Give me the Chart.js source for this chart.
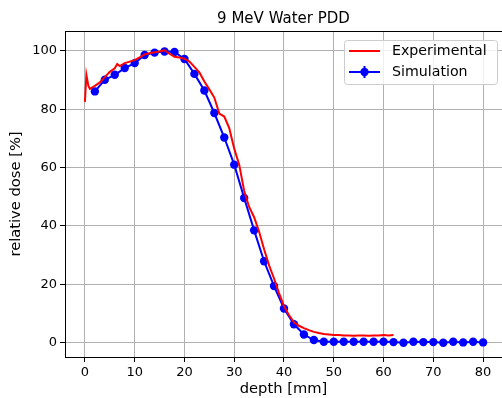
<!DOCTYPE html>
<html>
<head>
<meta charset="utf-8">
<script src="https://cdn.jsdelivr.net/npm/chart.js@4"></script>
<style>
  body { margin: 0; background: #fff; }
  #pdd { display: block; }
</style>
</head>
<body>
<canvas id="pdd" width="502" height="398"></canvas>
<script>
// measured depth-dose curve
const expDepth = [0, 0.3, 0.7, 1, 2, 3, 4, 5, 6, 6.5, 7, 8, 9, 10, 11, 12, 13, 14, 15, 16,
  17, 18, 19, 20, 21, 22, 23, 24, 25, 26, 27, 28, 29, 30, 31, 32, 33, 34, 35, 36,
  37, 38, 39, 40, 41, 42, 43, 44, 45, 46, 47, 48, 49, 50, 51, 52, 53, 54, 55, 56,
  57, 58, 59, 60, 61, 62];
const expDose = [82.5, 91.8, 88, 87, 88, 89.2, 91, 92.8, 94, 95.5, 94.8, 95.8, 96.3, 96.8, 97.8, 98.8, 99.2, 99.5, 99.8, 100.2,
  99.0, 98.0, 97.7, 97.3, 96.3, 94.5, 92.6, 89.5, 86.8, 84, 78.5, 77.5, 73.5, 66.5, 61, 52, 46.5, 43, 38, 32,
  26.5, 22, 17, 12.5, 9.5, 7, 5.8, 5, 4.3, 3.7, 3.3, 3.0, 2.8, 2.6, 2.6, 2.5, 2.5, 2.4, 2.5, 2.5,
  2.4, 2.5, 2.5, 2.6, 2.5, 2.6];

// simulated points, every 2 mm
const simDepth = [2, 4, 6, 8, 10, 12, 14, 16, 18, 20, 22, 24, 26, 28, 30, 32, 34, 36, 38, 40,
  42, 44, 46, 48, 50, 52, 54, 56, 58, 60, 62, 64, 66, 68, 70, 72, 74, 76, 78, 80];
const simDose = [86.1, 90.1, 91.8, 94.1, 95.8, 98.6, 99.4, 99.8, 99.6, 97.2, 92.1, 86.4, 78.7, 70.3, 61.0, 49.6, 38.5, 27.9, 19.4, 11.7,
  6.3, 2.8, 0.9, 0.3, 0.3, 0.3, 0.3, 0.3, 0.3, 0.3, 0.2, 0.0, 0.3, 0.2, 0.2, 0.0, 0.3, 0.1, 0.3, 0.1];

const xTicks = [0, 10, 20, 30, 40, 50, 60, 70, 80];
const yTicks = [0, 20, 40, 60, 80, 100];

const FONT = 'DejaVu Sans';

const frameAndLegend = {
  id: 'frameAndLegend',
  afterDraw(chart) {
    const ctx = chart.ctx;
    const a = chart.chartArea;
    ctx.save();
    // top spine
    ctx.strokeStyle = '#000';
    ctx.lineWidth = 1;
    ctx.beginPath();
    ctx.moveTo(a.left, Math.round(a.top) + 0.5);
    ctx.lineTo(a.right, Math.round(a.top) + 0.5);
    ctx.stroke();

    // legend box, upper right
    const w = 153, h = 44;
    const x0 = a.right - 5 - w, y0 = a.top + 9;
    ctx.fillStyle = 'rgba(255,255,255,0.8)';
    ctx.strokeStyle = '#cccccc';
    ctx.beginPath();
    ctx.roundRect(x0 + 0.5, y0 + 0.5, w, h, 3);
    ctx.fill();
    ctx.stroke();

    ctx.lineWidth = 2;
    ctx.strokeStyle = '#ff0000';
    ctx.beginPath();
    ctx.moveTo(x0 + 5, y0 + 11);
    ctx.lineTo(x0 + 36, y0 + 11);
    ctx.stroke();

    const by = y0 + 32, bx = x0 + 20.5;
    ctx.strokeStyle = '#0000ff';
    ctx.beginPath();
    ctx.moveTo(x0 + 5, by);
    ctx.lineTo(x0 + 36, by);
    ctx.moveTo(bx, by - 6);
    ctx.lineTo(bx, by + 6);
    ctx.stroke();
    ctx.fillStyle = '#0000ff';
    ctx.beginPath();
    ctx.arc(bx, by, 4.2, 0, Math.PI * 2);
    ctx.fill();

    ctx.fillStyle = '#000';
    ctx.font = '14.2px "' + FONT + '"';
    ctx.textBaseline = 'middle';
    ctx.textAlign = 'left';
    ctx.fillText('Experimental', x0 + 48, y0 + 11);
    ctx.fillText('Simulation', x0 + 48, by);
    ctx.restore();
  }
};

Chart.defaults.font.family = FONT;
Chart.defaults.font.size = 13;
Chart.defaults.color = '#000';

new Chart(document.getElementById('pdd').getContext('2d'), {
  type: 'scatter',
  data: {
    datasets: [{
      label: 'Experimental',
      data: expDepth.map((d, i) => ({ x: d, y: expDose[i] })),
      showLine: true,
      borderColor: '#ff0000',
      backgroundColor: '#ff0000',
      borderWidth: 2,
      pointRadius: 0,
      tension: 0
    }, {
      label: 'Simulation',
      data: simDepth.map((d, i) => ({ x: d, y: simDose[i] })),
      showLine: true,
      borderColor: '#0000ff',
      backgroundColor: '#0000ff',
      borderWidth: 2,
      pointRadius: 4.2,
      pointBorderWidth: 0,
      tension: 0
    }]
  },
  options: {
    responsive: false,
    animation: false,
    devicePixelRatio: 1,
    layout: { autoPadding: false, padding: { top: 0, right: 0, bottom: 0, left: 0 } },
    plugins: {
      legend: { display: false },
      tooltip: { enabled: false },
      title: {
        display: true,
        text: '9 MeV Water PDD',
        fullSize: false,
        font: { size: 15, weight: 'normal' },
        padding: { top: 10, bottom: 3 }
      }
    },
    scales: {
      x: {
        type: 'linear',
        min: -4,
        max: 83.8,
        afterFit: s => { s.height = 41; s.paddingLeft = 0; s.paddingRight = 0; },
        afterBuildTicks: s => { s.ticks = xTicks.map(v => ({ value: v })); },
        ticks: { padding: 3, includeBounds: false, maxRotation: 0 },
        grid: { color: '#b0b0b0', lineWidth: 1, tickColor: '#000', tickLength: 5, tickWidth: 1 },
        border: { color: '#000', width: 1 },
        title: { display: true, text: 'depth [mm]', font: { size: 14.7 }, padding: { top: 0, bottom: 0 } }
      },
      y: {
        min: -4.9,
        max: 106.8,
        afterFit: s => { s.width = 65; s.paddingTop = 0; s.paddingBottom = 0; },
        afterBuildTicks: s => { s.ticks = yTicks.map(v => ({ value: v })); },
        ticks: { padding: 3, includeBounds: false },
        grid: { color: '#b0b0b0', lineWidth: 1, tickColor: '#000', tickLength: 5, tickWidth: 1 },
        border: { color: '#000', width: 1 },
        title: { display: true, text: 'relative dose [%]', font: { size: 14.7 }, padding: { top: 7, bottom: 0 } }
      }
    }
  },
  plugins: [frameAndLegend]
});
</script>
</body>
</html>
